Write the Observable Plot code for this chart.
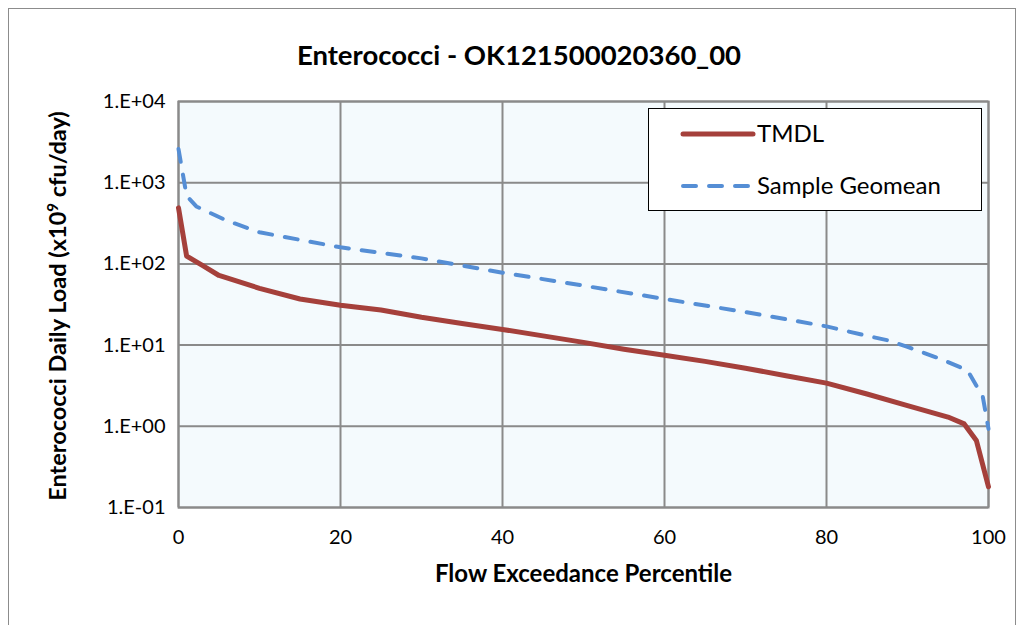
<!DOCTYPE html>
<html>
<head>
<meta charset="utf-8">
<script src="https://cdn.jsdelivr.net/npm/d3@7"></script>
<script src="https://cdn.jsdelivr.net/npm/@observablehq/plot@0.6"></script>
<style>
  body { margin: 0; background: #fff; font-family: Lato, "Open Sans", sans-serif; }
  #wrap { position: relative; width: 1024px; height: 625px; overflow: hidden; }
  #border { position: absolute; left: 8px; top: 8px; width: 1008px; height: 640px; border: 1px solid #8c8c8c; box-sizing: border-box; }
  #title { position: absolute; left: 0; width: 1038px; top: 38px; text-align: center; font-weight: bold; font-size: 27.5px; color: #000; }
  #ylabel { position: absolute; left: 58px; top: 306px; transform: translate(-50%, -50%) rotate(-90deg); white-space: nowrap; font-weight: bold; font-size: 23.5px; color: #000; line-height: 1; }
  #ylabel sup { font-size: 15px; vertical-align: 0.55em; line-height: 0; }
  #chart { position: absolute; left: 0; top: 0; }
  #legend { position: absolute; left: 648px; top: 108px; width: 334px; height: 103px; border: 1.5px solid #000; background: #fff; box-sizing: border-box; }
  .lg { position: absolute; left: 0; height: 30px; width: 330px; }
  .lg svg { position: absolute; left: 30px; top: 0; }
  .lg span { position: absolute; left: 108px; top: -1px; font-size: 24px; color: #000; }
</style>
</head>
<body>
<div id="wrap">
  <div id="border"></div>
  <div id="chart"></div>
  <div id="title">Enterococci - OK121500020360_00</div>
  <div id="ylabel">Enterococci Daily Load (x10<sup>9</sup> cfu/day)</div>
  <div id="legend">
    <div class="lg" style="top:10px">
      <svg width="80" height="30"><line x1="4" y1="15" x2="74" y2="15" stroke="#A5403B" stroke-width="5" stroke-linecap="round"/></svg>
      <span>TMDL</span>
    </div>
    <div class="lg" style="top:62px">
      <svg width="80" height="30"><line x1="4" y1="15" x2="74" y2="15" stroke="#558ED5" stroke-width="4" stroke-linecap="round" stroke-dasharray="13,13"/></svg>
      <span>Sample Geomean</span>
    </div>
  </div>
</div>
<script>
// Data
const tmdlPct = [0, 1, 3, 5, 10, 15, 20, 25, 30, 35, 40, 45, 50, 55, 60, 65, 70, 75, 80, 85, 90, 95, 97, 98.5, 100];
const tmdlLoad = [490, 125, 95, 72, 50, 37, 31, 27, 22, 18.5, 15.6, 13, 10.8, 8.9, 7.5, 6.3, 5.2, 4.2, 3.4, 2.5, 1.8, 1.3, 1.07, 0.67, 0.18];

const geoPct = [0, 1, 2.2, 6, 10, 20, 30, 40, 50, 60, 70, 80, 85, 87.5, 90, 94, 97.4, 99.3, 100];
const geoLoad = [2600, 690, 510, 340, 245, 160, 117, 78, 54, 37, 25.5, 17, 13, 11.5, 9.5, 6.8, 4.9, 2.3, 0.93];

const xTicks = [0, 20, 40, 60, 80, 100];
const yTicks = [0.1, 1, 10, 100, 1000, 10000];

const tmdl = tmdlPct.map((p, i) => ({p, v: tmdlLoad[i]}));
const geo = geoPct.map((p, i) => ({p, v: geoLoad[i]}));

const fmtE = v => {
  const e = Math.round(Math.log10(v));
  const s = e < 0 ? "-" : "+";
  return "1.E" + s + String(Math.abs(e)).padStart(2, "0");
};

const chart = Plot.plot({
  width: 1024,
  height: 625,
  marginLeft: 178,
  marginRight: 36,
  marginTop: 101,
  marginBottom: 118,
  style: { fontFamily: "Lato, 'Open Sans', sans-serif", fontSize: "19px", color: "#000", background: "transparent" },
  x: { domain: [0, 100], ticks: xTicks, tickSize: 0, tickPadding: 22, label: null },
  y: { type: "log", domain: [0.1, 10000], ticks: yTicks, tickFormat: fmtE, tickSize: 0, tickPadding: 13, label: null },
  marks: [
    Plot.frame({ fill: "#F4FAFD" }),
    Plot.gridX(xTicks, { stroke: "#8a8a8a", strokeOpacity: 1, strokeWidth: 2 }),
    Plot.gridY(yTicks, { stroke: "#8a8a8a", strokeOpacity: 1, strokeWidth: 2 }),
    Plot.frame({ stroke: "#8a8a8a", strokeWidth: 2 }),
    Plot.axisX({ ticks: xTicks, tickSize: 0, tickPadding: 22, fontSize: 20 }),
    Plot.axisY({ ticks: yTicks, tickFormat: fmtE, tickSize: 0, tickPadding: 13, fontSize: 20 }),
    Plot.line(geo, { x: "p", y: "v", stroke: "#558ED5", strokeWidth: 4, strokeDasharray: "13,13", strokeLinecap: "round" }),
    Plot.line(tmdl, { x: "p", y: "v", stroke: "#A5403B", strokeWidth: 5, strokeLinejoin: "round" }),
    Plot.text(["Flow Exceedance Percentile"], { frameAnchor: "bottom", dy: 74, fontWeight: "bold", fontSize: 24, fill: "#000" })
  ]
});
document.getElementById("chart").appendChild(chart);
</script>
</body>
</html>
